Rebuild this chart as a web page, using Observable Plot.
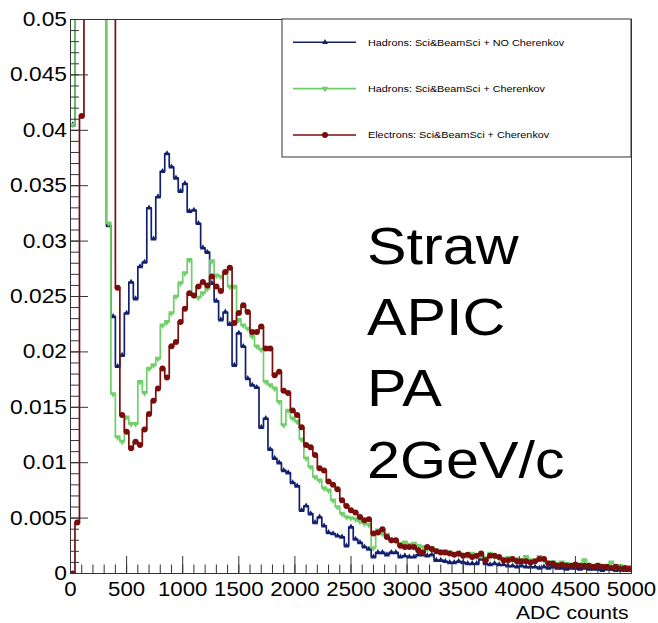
<!DOCTYPE html>
<html><head><meta charset="utf-8">
<script src="https://cdn.jsdelivr.net/npm/d3@7"></script>
<script src="https://cdn.jsdelivr.net/npm/@observablehq/plot@0.6"></script>
<style>body{margin:0;background:#fff;} svg{display:block}</style>
</head><body><div id="chart"></div>
<script>
// ADC counts per histogram bin (125 bins from 0 to 5000)
const binWidth = 40;

const hadronsNoCherenkov = [
0.0405,0.110,0.160,0.150,0.120,0.090,0.070,0.055,0.0314,0.0232,
0.0187,0.0197,0.0235,0.0263,0.0248,0.0277,0.0281,0.0330,0.0302,0.0340,
0.0363,0.0379,0.0367,0.0357,0.0345,0.0352,0.0327,0.0328,0.0316,0.0294,
0.0290,0.0262,0.0246,0.0229,0.0236,0.0225,0.0188,0.0217,0.0205,0.0176,
0.0170,0.0168,0.0132,0.0140,0.0112,0.0104,0.0100,0.0093,0.0091,0.0082,
0.0079,0.0057,0.0061,0.0054,0.0046,0.0051,0.0043,0.0037,0.0036,0.0034,
0.0033,0.0025,0.0042,0.0031,0.0028,0.0024,0.0022,0.0015,0.0019,0.0019,
0.0017,0.0019,0.0019,0.0015,0.0016,0.0015,0.0015,0.0017,0.0017,0.0016,
0.0017,0.0012,0.0012,0.0011,0.0010,0.0010,0.0011,0.0010,0.0009,0.0009,
0.0009,0.0013,0.0009,0.0008,0.0009,0.0008,0.0008,0.0007,0.0007,0.0006,
0.0007,0.0006,0.0006,0.0006,0.0005,0.0006,0.0005,0.0006,0.0005,0.0005,
0.0004,0.0005,0.0005,0.0004,0.0005,0.0004,0.0004,0.0004,0.0003,0.0004,
0.0004,0.0003,0.0004,0.0003,0.0003];

const hadronsCherenkov = [
0.0405,0.120,0.160,0.150,0.130,0.100,0.080,0.060,0.0316,0.0162,
0.0123,0.0119,0.0141,0.0135,0.0135,0.0173,0.0163,0.0185,0.0188,0.0194,
0.0224,0.0227,0.0235,0.0250,0.0262,0.0271,0.0283,0.0251,0.0249,0.0253,
0.0257,0.0282,0.0269,0.0268,0.0272,0.0259,0.0259,0.0229,0.0224,0.0221,
0.0214,0.0205,0.0202,0.0173,0.0170,0.0167,0.0155,0.0134,0.0147,0.0140,
0.0137,0.0121,0.0104,0.0096,0.0087,0.0084,0.0077,0.0075,0.0066,0.0060,
0.0054,0.0051,0.0050,0.0049,0.0047,0.0045,0.0044,0.0023,0.0039,0.0036,
0.0035,0.0030,0.0029,0.0027,0.0028,0.0026,0.0027,0.0025,0.0024,0.0022,
0.0023,0.0021,0.0020,0.0020,0.0019,0.0018,0.0017,0.0017,0.0016,0.0018,
0.0015,0.0016,0.0014,0.0018,0.0015,0.0014,0.0013,0.0014,0.0012,0.0013,
0.0012,0.0015,0.0012,0.0011,0.0015,0.0012,0.0010,0.0010,0.0009,0.0010,
0.0009,0.0008,0.0009,0.0008,0.0012,0.0008,0.0007,0.0008,0.0007,0.0007,
0.0010,0.0006,0.0007,0.0005,0.0006];

const electronsCherenkov = [
0,0.0046,0.0413,0.090,0.130,0.140,0.120,0.100,0.080,0.060,
0.0258,0.0143,0.0128,0.0113,0.0119,0.0116,0.0130,0.0144,0.0156,0.0167,
0.0185,0.0177,0.0205,0.0209,0.0227,0.0239,0.0253,0.0251,0.0259,0.0263,
0.0260,0.0268,0.0259,0.0255,0.0272,0.0276,0.0226,0.0235,0.0242,0.0236,
0.0218,0.0218,0.0223,0.0203,0.0203,0.0179,0.0182,0.0165,0.0163,0.0147,
0.0143,0.0132,0.0116,0.0114,0.0107,0.0095,0.0093,0.0083,0.0080,0.0076,
0.0066,0.0061,0.0057,0.0055,0.0051,0.0048,0.0049,0.0036,0.0037,0.0040,
0.0033,0.0030,0.0030,0.0025,0.0024,0.0024,0.0024,0.0021,0.0019,0.0024,
0.0022,0.0020,0.0019,0.0019,0.0018,0.0017,0.0018,0.0016,0.0017,0.0015,
0.0016,0.0018,0.0012,0.0016,0.0016,0.0015,0.0012,0.0012,0.0013,0.0011,
0.0011,0.0011,0.0010,0.0011,0.0013,0.0013,0.0009,0.0009,0.0007,0.0008,
0.0007,0.0007,0.0008,0.0007,0.0007,0.0007,0.0006,0.0007,0.0006,0.0006,
0.0005,0.0006,0.0004,0.0005,0.0004];

const seriesNames = [
  "Hadrons: Sci&BeamSci + NO Cherenkov",
  "Hadrons: Sci&BeamSci + Cherenkov",
  "Electrons: Sci&BeamSci + Cherenkov"
];
const seriesColors = ["#13206f", "#6fd06a", "#7b0d0d"];

const yTickValues = [0,0.005,0.01,0.015,0.02,0.025,0.03,0.035,0.04,0.045,0.05];
const yTickLabels = ["0","0.005","0.01","0.015","0.02","0.025","0.03","0.035","0.04","0.045","0.05"];
const xTickValues = [0,500,1000,1500,2000,2500,3000,3500,4000,4500,5000];
const xTickLabels = ["0","500","1000","1500","2000","2500","3000","3500","4000","4500","5000"];
const yMinorTicks = d3.range(0, 51).map(i => i / 1000);
const xMinorTicks = d3.range(0, 51).map(i => i * 100);
const xTitle = "ADC counts";
const annotation = "Straw\nAPIC\nPA\n2GeV/c";

// down-pointing triangle symbol (ROOT marker 23)
const triangleDown = {
  draw(context, size) {
    const s3 = Math.sqrt(3);
    const y = Math.sqrt(size / (s3 * 3));
    context.moveTo(0, y * 2);
    context.lineTo(-s3 * y, -y);
    context.lineTo(s3 * y, -y);
    context.closePath();
  }
};
const seriesSymbols = ["triangle", triangleDown, "circle"];
const symbolR = [2.2, 2.4, 3];

function steps(values) {
  const pts = values.map((v, i) => ({x: i * binWidth, y: v}));
  pts.push({x: values.length * binWidth, y: values[values.length - 1]});
  return pts;
}
function centers(values) {
  return values.map((v, i) => ({x: (i + 0.5) * binWidth, y: v}));
}

const W = 658, H = 623;
const mL = 70, mR = 27, mT = 19, mB = 50;
const plotW = W - mL - mR, plotH = H - mT - mB;
const allSeries = [hadronsNoCherenkov, hadronsCherenkov, electronsCherenkov];
const ink = "#333";

const seriesMarks = allSeries.flatMap((vals, k) => [
  Plot.line(steps(vals), {x: "x", y: "y", curve: "step-after", stroke: seriesColors[k], strokeWidth: 1.7, clip: true}),
  Plot.dot(centers(vals), {x: "x", y: "y", symbol: seriesSymbols[k], r: symbolR[k], fill: seriesColors[k], stroke: "none", clip: true})
]);

const plot = Plot.plot({
  width: W, height: H,
  marginLeft: mL, marginRight: mR, marginTop: mT, marginBottom: mB,
  x: {domain: [0, 5000], axis: null},
  y: {domain: [0, 0.05], axis: null},
  style: {fontFamily: "'Liberation Sans', Arial, Helvetica, sans-serif", background: "white", color: "black"},
  marks: [
    ...seriesMarks,
    Plot.frame({stroke: ink, strokeWidth: 1}),
    Plot.tickY(yMinorTicks, {y: d => d, stroke: ink, insetRight: plotW - 9}),
    Plot.tickY(yTickValues, {y: d => d, stroke: ink, insetRight: plotW - 18}),
    Plot.tickX(xMinorTicks, {x: d => d, stroke: ink, insetTop: plotH - 8.5}),
    Plot.tickX(xTickValues, {x: d => d, stroke: ink, insetTop: plotH - 17}),
    Plot.axisY(yTickValues, {tickSize: 0, tickPadding: 3.5, fontSize: 20, tickFormat: d => yTickLabels[yTickValues.indexOf(d)], label: null}),
    Plot.axisX(xTickValues, {tickSize: 0, tickPadding: 9, fontSize: 19.5, tickFormat: d => xTickLabels[xTickValues.indexOf(d)], label: null}),
    Plot.text([xTitle], {frameAnchor: "bottom-right", textAnchor: "end", lineAnchor: "bottom", dx: -3, dy: 45, fontSize: 18.5, fill: "black"}),
    Plot.text([annotation], {frameAnchor: "top-left", textAnchor: "start", lineAnchor: "bottom", lineHeight: 1.371, dx: 296.5, dy: 458, fontSize: 52, fill: "black"})
  ]
});

// legend box (ROOT TLegend) drawn in the frame's top-right corner
const svg = d3.select(plot);
const lg = svg.append("g").attr("class", "legend").attr("text-anchor", "start");
const lx0 = 282, lx1 = W - mR, ly0 = mT, ly1 = 157;
lg.append("rect").attr("x", lx0).attr("y", ly0).attr("width", lx1 - lx0).attr("height", ly1 - ly0)
  .attr("fill", "white").attr("stroke", ink).attr("stroke-width", 1);
const symbolTypes = [d3.symbolTriangle, triangleDown, d3.symbolCircle];
seriesNames.forEach((name, k) => {
  const y = 42.3 + k * 46.35;
  lg.append("line").attr("x1", 293).attr("x2", 356).attr("y1", y).attr("y2", y)
    .attr("stroke", seriesColors[k]).attr("stroke-width", 1.6);
  lg.append("path").attr("d", d3.symbol(symbolTypes[k], Math.PI * symbolR[k] * symbolR[k])())
    .attr("transform", `translate(325,${y})`).attr("fill", seriesColors[k]);
  lg.append("text").attr("transform", `translate(368,${y})`).attr("dy", "0.35em")
    .attr("text-anchor", "start").attr("font-size", 9.5).attr("fill", "black").text(name);
});

// the reference's lettering is horizontally stretched
svg.selectAll("text").each(function() {
  const t = this.getAttribute("transform") || "";
  this.setAttribute("transform", (t + " scale(1.14,1)").trim());
});

document.getElementById("chart").appendChild(plot);
</script>
</body></html>
